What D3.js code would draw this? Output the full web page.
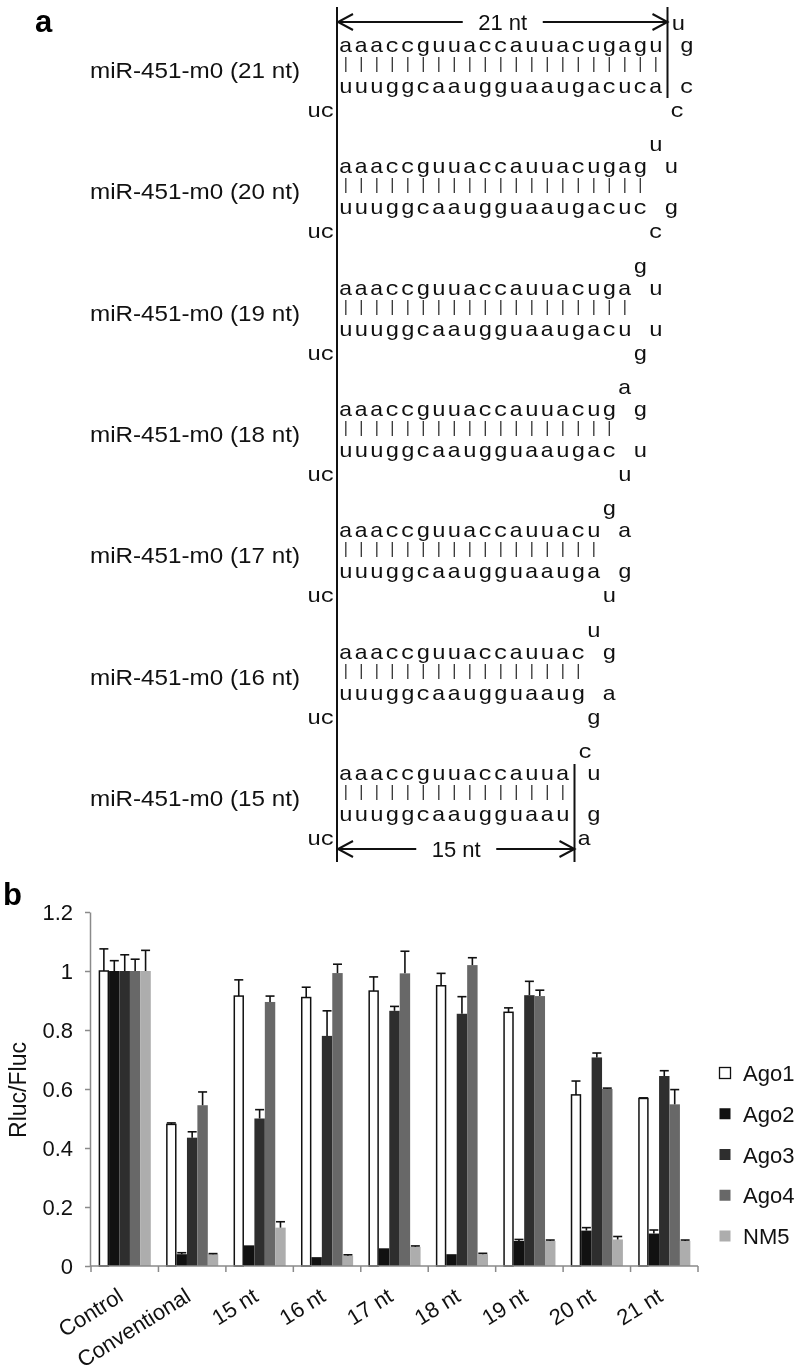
<!DOCTYPE html>
<html><head><meta charset="utf-8">
<script src="https://cdnjs.cloudflare.com/ajax/libs/d3/7.8.5/d3.min.js"></script>
<style>body{margin:0;background:#fff} #fig{filter:grayscale(1)}</style>
</head><body>
<svg id="fig" width="801" height="1372" xmlns="http://www.w3.org/2000/svg"></svg>
<script>
// ---------- Panel a data ----------
const hairpinLabels = ["miR-451-m0 (21 nt)","miR-451-m0 (20 nt)","miR-451-m0 (19 nt)","miR-451-m0 (18 nt)","miR-451-m0 (17 nt)","miR-451-m0 (16 nt)","miR-451-m0 (15 nt)"];
const hairpinLengths = [21,20,19,18,17,16,15];
const topStrand = "aaaccguuaccauuacugagu";
const bottomStrand = "uuuggcaaugguaaugacuca";
const loopTop = ["u","u","g","a","g","u","c"];
const loopUpper = ["g","u","u","g","a","g","u"];
const loopLower = ["c","g","u","u","g","a","g"];
const loopBottom = ["c","c","g","u","u","g","a"];
const overhang = "uc";
const arrowLabels = ["21 nt","15 nt"];

// ---------- Panel b data ----------
const categories = ["Control","Conventional","15 nt","16 nt","17 nt","18 nt","19 nt","20 nt","21 nt"];
const seriesNames = ["Ago1","Ago2","Ago3","Ago4","NM5"];
const ago1 = [1, 0.48, 0.915, 0.91, 0.932, 0.95, 0.86, 0.58, 0.568];
const ago2 = [1, 0.04, 0.07, 0.03, 0.06, 0.04, 0.085, 0.12, 0.11];
const ago3 = [1, 0.435, 0.5, 0.78, 0.865, 0.855, 0.918, 0.707, 0.644];
const ago4 = [1, 0.545, 0.895, 0.993, 0.992, 1.02, 0.915, 0.6, 0.548];
const nm5  = [1, 0.04, 0.13, 0.035, 0.065, 0.04, 0.085, 0.09, 0.085];
const ago1Err = [0.075, 0.005, 0.055, 0.035, 0.048, 0.042, 0.015, 0.047, 0.002];
const ago2Err = [0.035, 0.005, 0, 0, 0, 0, 0.005, 0.01, 0.012];
const ago3Err = [0.055, 0.02, 0.03, 0.085, 0.015, 0.058, 0.047, 0.015, 0.018];
const ago4Err = [0.04, 0.045, 0.02, 0.03, 0.075, 0.025, 0.02, 0.003, 0.05];
const nm5Err  = [0.07, 0.002, 0.02, 0.003, 0.003, 0.003, 0.003, 0.01, 0.003];
const seriesColors = ["#ffffff","#111111","#2e2e2e","#686868","#adadad"];
const yTicks = [0, 0.2, 0.4, 0.6, 0.8, 1, 1.2];
const yTickLabels = ["0","0.2","0.4","0.6","0.8","1","1.2"];
const yTitle = "Rluc/Fluc";

const seriesValues = [ago1, ago2, ago3, ago4, nm5];
const seriesErrors = [ago1Err, ago2Err, ago3Err, ago4Err, nm5Err];

const SANS = "'Liberation Sans', Arial, Helvetica, sans-serif";
const MONO = "'Liberation Mono', 'Courier New', monospace";
const svg = d3.select("#fig");

// ================= Panel a =================
svg.append("text").attr("x", 35).attr("y", 32).attr("font-family", SANS)
  .attr("font-weight", "bold").attr("font-size", 31).text("a");

const charX = d3.scaleLinear().domain([0, 1]).range([338, 353.5]);
const cw = charX(1) - charX(0);
const rowY = d3.scalePoint().domain(hairpinLabels).range([52, 780]);
const SX = 1.12; // horizontal stretch of the monospace glyphs

function mono(g, str, startIdx, y, shift) {
  if (!str) return;
  g.append("text")
    .attr("transform", `scale(${SX},1)`)
    .attr("x", str.split("").map((c, i) => ((charX(startIdx + i) + cw / 2 + (shift || 0)) / SX).toFixed(2)).join(" "))
    .attr("y", y).attr("text-anchor", "middle")
    .attr("font-family", MONO).attr("font-size", 21).attr("fill", "#111")
    .text(str);
}

hairpinLabels.forEach((lab, k) => {
  const n = hairpinLengths[k];
  const S = rowY(lab);
  const g = svg.append("g");
  const edge = (k === 0 || k === hairpinLabels.length - 1);
  g.append("text").attr("x", 90).attr("y", S + 26)
    .attr("font-family", SANS).attr("font-size", 22)
    .attr("textLength", 210).attr("lengthAdjust", "spacingAndGlyphs")
    .attr("fill", "#111").text(lab);
  mono(g, loopTop[k], n, S - 22, edge ? 7 : 0);
  mono(g, topStrand.slice(0, n), 0, S);
  mono(g, loopUpper[k], n + 1, S);
  g.append("text")
    .attr("x", d3.range(n).map(i => (charX(i) + cw / 2).toFixed(1)).join(" "))
    .attr("y", S + 17).attr("text-anchor", "middle")
    .attr("font-family", MONO).attr("font-size", 16).attr("fill", "#333")
    .text("|".repeat(n));
  mono(g, bottomStrand.slice(0, n), 0, S + 41);
  mono(g, loopLower[k], n + 1, S + 41);
  mono(g, loopBottom[k], n, S + 65, edge ? 6 : 0);
  g.append("text").attr("transform", `scale(${SX},1)`)
    .attr("x", [(charX(0) - 24) / SX, (charX(0) - 10.5) / SX].map(v => v.toFixed(2)).join(" "))
    .attr("y", S + 65).attr("text-anchor", "middle")
    .attr("font-family", MONO).attr("font-size", 21).attr("fill", "#111")
    .text(overhang);
});

// long left line
const leftX = charX(0) - 1;
svg.append("line").attr("x1", leftX).attr("x2", leftX)
  .attr("y1", rowY(hairpinLabels[0]) - 45).attr("y2", rowY(hairpinLabels[6]) + 82)
  .attr("stroke", "#111").attr("stroke-width", 2);

function dimArrow(n, yLine, yText, vTop, vBot, label) {
  const xr = charX(n) + 4;
  const xl = leftX + 1;
  const mid = (xl + xr) / 2;
  const g = svg.append("g").attr("stroke", "#111").attr("stroke-width", 2).attr("fill", "none");
  g.append("line").attr("x1", xr).attr("x2", xr).attr("y1", vTop).attr("y2", vBot);
  g.append("line").attr("x1", xl).attr("x2", mid - 40).attr("y1", yLine).attr("y2", yLine);
  g.append("line").attr("x1", mid + 40).attr("x2", xr).attr("y1", yLine).attr("y2", yLine);
  g.append("path").attr("d", `M${xl + 15},${yLine - 8}L${xl},${yLine}L${xl + 15},${yLine + 8}`);
  g.append("path").attr("d", `M${xr - 15},${yLine - 8}L${xr},${yLine}L${xr - 15},${yLine + 8}`);
  svg.append("text").attr("x", mid).attr("y", yText).attr("text-anchor", "middle")
    .attr("font-family", SANS).attr("font-size", 22).attr("fill", "#111").text(label);
}
{
  const S0 = rowY(hairpinLabels[0]);
  dimArrow(hairpinLengths[0], S0 - 30, S0 - 22, S0 - 45, S0 + 46, arrowLabels[0]);
  const S6 = rowY(hairpinLabels[6]);
  dimArrow(hairpinLengths[6], S6 + 69, S6 + 77, S6 - 16, S6 + 82, arrowLabels[1]);
}

// ================= Panel b =================
svg.append("text").attr("x", 3).attr("y", 905).attr("font-family", SANS)
  .attr("font-weight", "bold").attr("font-size", 31).text("b");

const y = d3.scaleLinear().domain([0, 1.2]).range([1266, 912]);
const x = d3.scaleBand().domain(categories).range([91, 698]).paddingInner(0.227).paddingOuter(0.1135);
const xs = d3.scaleBand().domain(seriesNames).range([0, x.bandwidth()]);
const axisColor = "#8a8a8a";

// y axis
const yAxis = svg.append("g").attr("transform", "translate(90,0)")
  .call(d3.axisLeft(y).tickValues(yTicks).tickSize(5).tickSizeOuter(0).tickPadding(12)
    .tickFormat((d, i) => yTickLabels[i]));
yAxis.select(".domain").attr("stroke", axisColor).attr("stroke-width", 1.5);
yAxis.selectAll(".tick line").attr("stroke", axisColor).attr("stroke-width", 1.5);
yAxis.selectAll(".tick text").attr("font-family", SANS).attr("font-size", 22).attr("fill", "#111");

svg.append("text").attr("transform", `translate(26,${(y(0) + y(1.2)) / 2 + 1}) rotate(-90)`)
  .attr("text-anchor", "middle").attr("font-family", SANS).attr("font-size", 23)
  .attr("fill", "#111").text(yTitle);

// bars
const bars = [];
categories.forEach((c, ci) => seriesNames.forEach((s, si) => bars.push({c, s, si, v: seriesValues[si][ci], e: seriesErrors[si][ci]})));
const barG = svg.append("g");
barG.selectAll("rect").data(bars).join("rect")
  .attr("x", d => x(d.c) + xs(d.s) + (d.si === 0 ? 0.75 : 0))
  .attr("width", d => xs.bandwidth() - (d.si === 0 ? 1.5 : 0))
  .attr("y", d => y(d.v))
  .attr("height", d => y(0) - y(d.v))
  .attr("fill", d => seriesColors[d.si])
  .attr("stroke", d => d.si === 0 ? "#111" : "none")
  .attr("stroke-width", 1.5);

// error bars (upper)
const errG = svg.append("g").attr("stroke", "#111").attr("stroke-width", 1.6);
bars.filter(d => d.e > 0).forEach(d => {
  const cx = x(d.c) + xs(d.s) + xs.bandwidth() / 2;
  errG.append("line").attr("x1", cx).attr("x2", cx).attr("y1", y(d.v)).attr("y2", y(d.v + d.e));
  errG.append("line").attr("x1", cx - 4.5).attr("x2", cx + 4.5).attr("y1", y(d.v + d.e)).attr("y2", y(d.v + d.e));
});

// x axis
const xa = svg.append("g");
xa.append("line").attr("x1", 90).attr("x2", x.range()[1]).attr("y1", y(0)).attr("y2", y(0))
  .attr("stroke", axisColor).attr("stroke-width", 1.5);
d3.range(categories.length + 1).forEach(i => {
  const tx = x.range()[0] + i * x.step();
  xa.append("line").attr("x1", tx).attr("x2", tx).attr("y1", y(0)).attr("y2", y(0) + 6)
    .attr("stroke", axisColor).attr("stroke-width", 1.5);
});
xa.selectAll("text.cat").data(categories).join("text").attr("class", "cat")
  .attr("transform", d => `translate(${x(d) + x.bandwidth() / 2},${y(0) + 34}) rotate(-32)`)
  .attr("text-anchor", "end").attr("font-family", SANS).attr("font-size", 22).attr("fill", "#111")
  .text(d => d);

// legend
const ly = d3.scalePoint().domain(seriesNames).range([1073, 1236]);
const lg = svg.append("g");
seriesNames.forEach((s, i) => {
  lg.append("rect").attr("x", 719.5).attr("y", ly(s) - 5.5).attr("width", 11).attr("height", 11)
    .attr("fill", seriesColors[i]).attr("stroke", i === 0 ? "#111" : "none").attr("stroke-width", 1.3);
  lg.append("text").attr("x", 743).attr("y", ly(s) + 8).attr("font-family", SANS)
    .attr("font-size", 22).attr("fill", "#111").text(s);
});
</script>
</body></html>
